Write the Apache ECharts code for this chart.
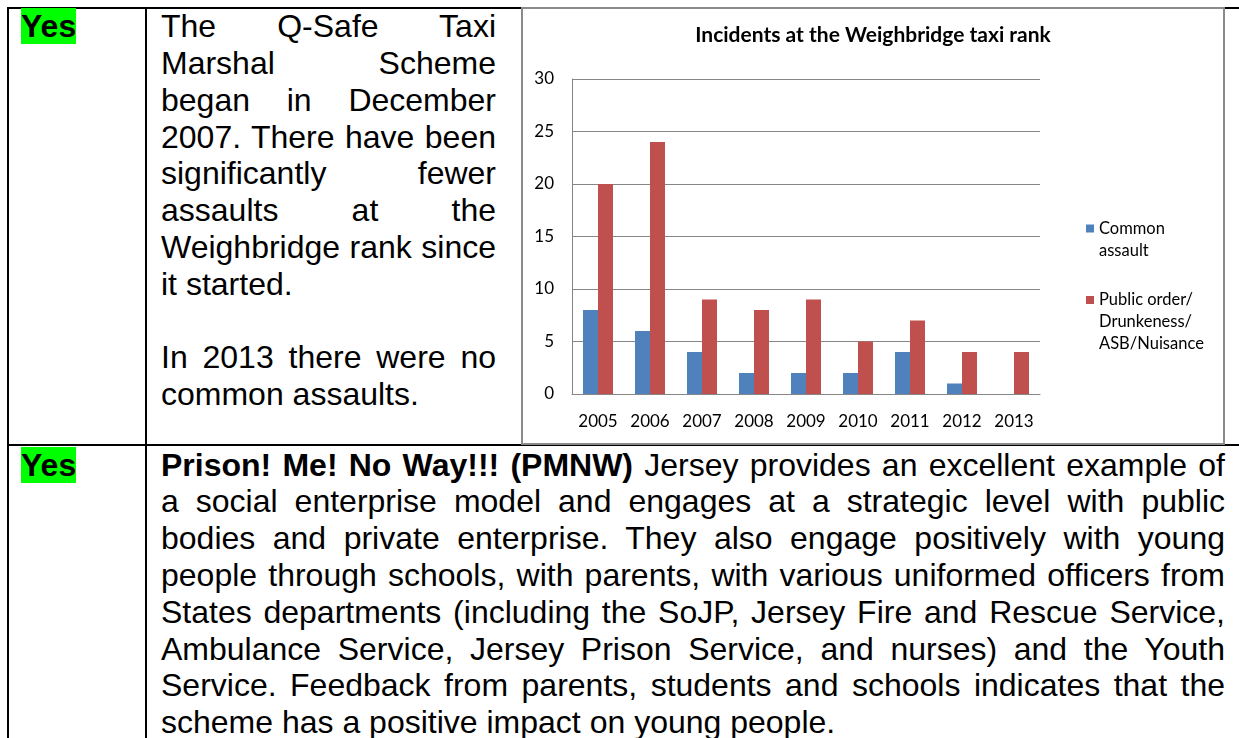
<!DOCTYPE html>
<html>
<head>
<meta charset="utf-8">
<script src="https://cdn.jsdelivr.net/npm/echarts@6/dist/echarts.min.js"></script>
<style>
html,body{margin:0;padding:0;background:#fff;width:1239px;height:738px;overflow:hidden;}
.ln{position:absolute;font-family:"Liberation Sans",Arial,sans-serif;font-size:32px;line-height:36.8px;color:#000;white-space:nowrap;}
.j{text-align:justify;text-align-last:justify;white-space:normal;}
.yes{background:#00ff00;font-weight:bold;}
.bl{position:absolute;background:#000;}
#box{position:absolute;left:521px;top:7px;width:704px;height:438px;border:2px solid #8a8a8a;box-sizing:border-box;background:#fff;z-index:2;}
#chart{width:700px;height:434px;}
</style>
</head>
<body>
<!-- table borders -->
<div class="bl" style="left:7px;top:7px;width:1232px;height:2px;"></div>
<div class="bl" style="left:7px;top:7px;width:2px;height:731px;"></div>
<div class="bl" style="left:145px;top:7px;width:2px;height:731px;"></div>
<div class="bl" style="left:7px;top:444px;width:1232px;height:2px;"></div>

<!-- row 1 -->
<div class="ln" style="left:21px;top:8.2px;"><span class="yes">Yes</span></div>
<div id="r1" style="position:absolute;left:161px;top:8.2px;width:335px;"></div>

<!-- row 2 -->
<div class="ln" style="left:21px;top:446.5px;"><span class="yes">Yes</span></div>
<div id="r2" style="position:absolute;left:161px;top:446.5px;width:1064px;"></div>

<div id="box"><div id="chart"></div></div>

<script>
// ---- text lines of the table cells ----
const row1Lines = [
  ['The Q-Safe Taxi', true],
  ['Marshal Scheme', true],
  ['began in December', true],
  ['2007. There have been', true],
  ['significantly fewer', true],
  ['assaults at the', true],
  ['Weighbridge rank since', true],
  ['it started.', false],
  ['', false],
  ['In 2013 there were no', true],
  ['common assaults.', false]
];
const row2Lines = [
  ['<b>Prison! Me! No Way!!! (PMNW)</b> Jersey provides an excellent example of', true],
  ['a social enterprise model and engages at a strategic level with public', true],
  ['bodies and private enterprise. They also engage positively with young', true],
  ['people through schools, with parents, with various uniformed officers from', true],
  ['States departments (including the SoJP, Jersey Fire and Rescue Service,', true],
  ['Ambulance Service, Jersey Prison Service, and nurses) and the Youth', true],
  ['Service. Feedback from parents, students and schools indicates that the', true],
  ['scheme has a positive impact on young people.', false]
];
function fill(id, lines, w) {
  const host = document.getElementById(id);
  lines.forEach((l, i) => {
    const d = document.createElement('div');
    d.className = 'ln' + (l[1] ? ' j' : '');
    d.style.left = '0px';
    d.style.top = (i * 36.8) + 'px';
    d.style.width = w + 'px';
    d.innerHTML = l[0] || '&nbsp;';
    host.appendChild(d);
  });
}
fill('r1', row1Lines, 335);
fill('r2', row2Lines, 1064);

// ---- chart data ----
const years = ['2005', '2006', '2007', '2008', '2009', '2010', '2011', '2012', '2013'];
const commonAssault = [8, 6, 4, 2, 2, 2, 4, 1, 0];
const publicOrder = [20, 24, 9, 8, 9, 5, 7, 4, 4];
const seriesNames = ['Common assault', 'Public order/Drunkeness/ASB/Nuisance'];
const legendLines = [['Common', 'assault'], ['Public order/', 'Drunkeness/', 'ASB/Nuisance']];
const yMin = 0, yMax = 30, yStep = 5;

const font = 'Lato';
const gridColor = '#868686';
const chart = echarts.init(document.getElementById('chart'), null, {renderer: 'canvas'});
const LH = 21.7;
// blank leading lines so the marker sits beside the first text line
function legendText(i) {
  const lines = legendLines[i];
  const pad = new Array(lines.length - 1).fill(' ');
  return pad.concat(lines).join('\n');
}
function legendFor(i, iconCenter) {
  const n = legendLines[i].length * 2 - 1;
  return {
    data: [seriesNames[i]],
    orient: 'vertical',
    left: 563,
    top: iconCenter - n * LH / 2,
    padding: 0,
    itemWidth: 8,
    itemHeight: 8,
    icon: 'rect',
    selectedMode: false,
    formatter: () => legendText(i),
    textStyle: {fontFamily: font, fontSize: 16.5, lineHeight: LH, color: '#000'}
  };
}
chart.setOption({
  animation: false,
  backgroundColor: '#fff',
  title: {
    text: 'Incidents at the Weighbridge taxi rank',
    left: 'center',
    top: 16,
    padding: 0,
    textStyle: {fontFamily: font, fontWeight: 'bold', fontSize: 21, color: '#000'}
  },
  legend: [
    legendFor(0, 219.5),
    legendFor(1, 291)
  ],
  grid: {left: 49, top: 70, width: 468, height: 315, containLabel: false},
  xAxis: {
    type: 'category',
    data: years,
    axisLine: {show: true, lineStyle: {color: gridColor, width: 1}},
    axisTick: {show: false},
    axisLabel: {fontFamily: font, fontSize: 17, lineHeight: 17, color: '#000', margin: 19}
  },
  yAxis: {
    type: 'value',
    min: yMin, max: yMax, interval: yStep,
    axisLine: {show: true, lineStyle: {color: gridColor, width: 1}},
    axisTick: {show: false},
    splitLine: {show: true, lineStyle: {color: gridColor, width: 1}},
    axisLabel: {fontFamily: font, fontSize: 17, color: '#000', margin: 18}
  },
  series: [
    {name: seriesNames[0], type: 'bar', data: commonAssault, barWidth: 15, barGap: '0%', itemStyle: {color: '#4F81BD'}},
    {name: seriesNames[1], type: 'bar', data: publicOrder, barWidth: 15, barGap: '0%', itemStyle: {color: '#C0504D'}}
  ]
});
</script>
</body>
</html>
